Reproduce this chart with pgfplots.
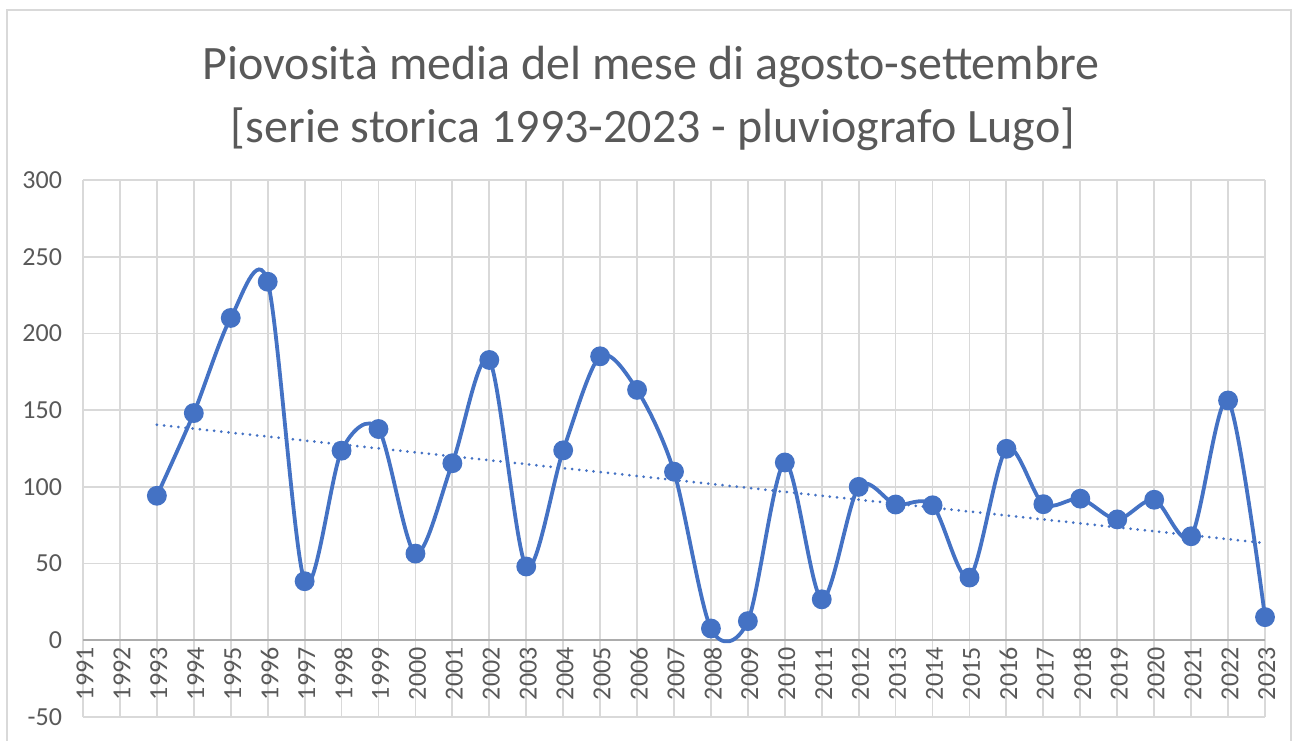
\documentclass[border=0pt]{standalone}
\usepackage{pgfplots}
\usepackage{pgfplotstable}
\pgfplotsset{compat=1.18}
\usepackage{fontspec}
\setmainfont{Carlito}
\definecolor{serie}{HTML}{4472C4}
\definecolor{txt}{HTML}{595959}
\definecolor{grd}{HTML}{D9D9D9}
\pgfplotstableread{
x y
1993 94.2
1994 148.1
1995 210.1
1996 233.7
1997 38.5
1998 123.6
1999 137.7
2000 56.5
2001 115.4
2002 182.7
2003 48.1
2004 123.8
2005 185.1
2006 163.2
2007 109.9
2008 7.7
2009 12.5
2010 115.9
2011 26.7
2012 100.0
2013 88.5
2014 88.0
2015 40.9
2016 124.8
2017 88.7
2018 92.3
2019 78.8
2020 91.6
2021 67.8
2022 156.3
2023 15.1
}\datatable
\begin{document}
\begin{tikzpicture}
\path[use as bounding box] (0,0) rectangle (646.5pt,370pt);
\draw[grd, line width=0.8pt] (3.5pt,-2pt) -- (3.5pt,365pt) -- (645.5pt,365pt) -- (645.5pt,-2pt);
\begin{axis}[
  at={(41.5pt,11.5pt)}, anchor=south west,
  scale only axis, width=591pt, height=268.5pt,
  xmin=1991, xmax=2023, ymin=-50, ymax=300,
  xtick={1991,...,2023}, ytick={-50,0,...,300},
  hide obscured x ticks=false,
  axis x line=middle, axis y line=left,
  x axis line style={-, draw=gray!65, line width=0.9pt},
  y axis line style={draw=none},
  major tick length=0pt,
  xmajorgrids, ymajorgrids,
  grid style={grd, line width=0.9pt},
  /pgf/number format/assume math mode=true,
  /pgf/number format/1000 sep={},
  tick label style={font=\fontsize{13}{15}\selectfont, text=txt},
  x tick label style={rotate=90, anchor=east, yshift=-1pt},
  y tick label style={anchor=east, xshift=-7pt},
  clip=false,
]
\addplot[serie, line width=1.9pt, smooth, tension=0.5, mark=*, mark size=4pt, mark options={fill=serie, draw=serie}] table[x=x, y=y] {\datatable};
\addplot[serie, line width=1.5pt, line cap=round, dash pattern=on 0pt off 3.6pt] table[x=x, y={create col/linear regression={y=y}}] {\datatable};
\end{axis}
\node[anchor=base, text=txt, font=\fontsize{24}{29}\selectfont] at (325.5pt,330pt) {Piovosità media del mese di agosto-settembre};
\node[anchor=base, text=txt, font=\fontsize{24}{29}\selectfont] at (326.5pt,298.5pt) {[serie storica 1993-2023 - pluviografo Lugo]};
\end{tikzpicture}
\end{document}
